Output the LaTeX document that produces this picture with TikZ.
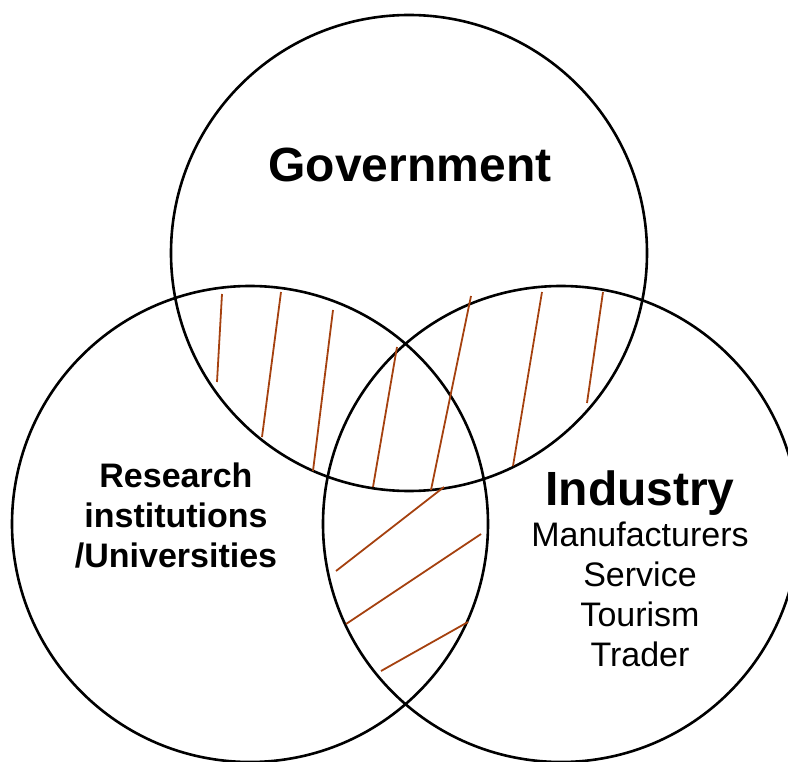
\documentclass[tikz,border=0pt]{standalone}
\usepackage{fontspec}
\setmainfont{Liberation Sans}
\usetikzlibrary{positioning}
\definecolor{hatchCol}{RGB}{165,65,15}
\tikzset{
  ring/.style={circle,draw,line width=2.6pt,minimum size=476pt,inner sep=0pt},
  hatch/.style={draw=hatchCol,line width=1.8pt},
  title/.style={font=\fontsize{48}{52}\selectfont\bfseries},
  party/.style={font=\fontsize{34}{40}\selectfont\bfseries,align=center},
  member/.style={font=\fontsize{34}{40}\selectfont,align=center},
}

\begin{document}
\begin{tikzpicture}[x=1pt,y=-1pt]
  \useasboundingbox (0,0) rectangle (788,762);
  % the three sectors
  \node[ring] (gov) at (409,253) {};
  \node[ring] (res) at (250,524) {};
  \node[ring] (ind) at (561,524) {};
  % hatching of the overlaps
  \foreach \xa/\ya/\xb/\yb in {222/294/217/382, 281/292/262/437, 333/310/313/471,
      397/347/373/487, 471/296/431/490, 542/292/513/466, 603/292/587/403,
      444/487/336/571, 481/534/346/624, 468/622/381/671}
    \draw[hatch] (\xa,\ya) -- (\xb,\yb);
  % labels (base of a multi-line node sits on its last line)
  \node[title,anchor=base] (govname) at (410,182) {Government};
  \node[party,anchor=base] (resname) at (176,567) {Research\\institutions\\/Universities};
  \node[title,anchor=base] (indname) at (640,505) {Industry};
  \node[member,anchor=base] (indlist) at (640,666) {Manufacturers\\Service\\Tourism\\Trader};
\end{tikzpicture}
\end{document}
